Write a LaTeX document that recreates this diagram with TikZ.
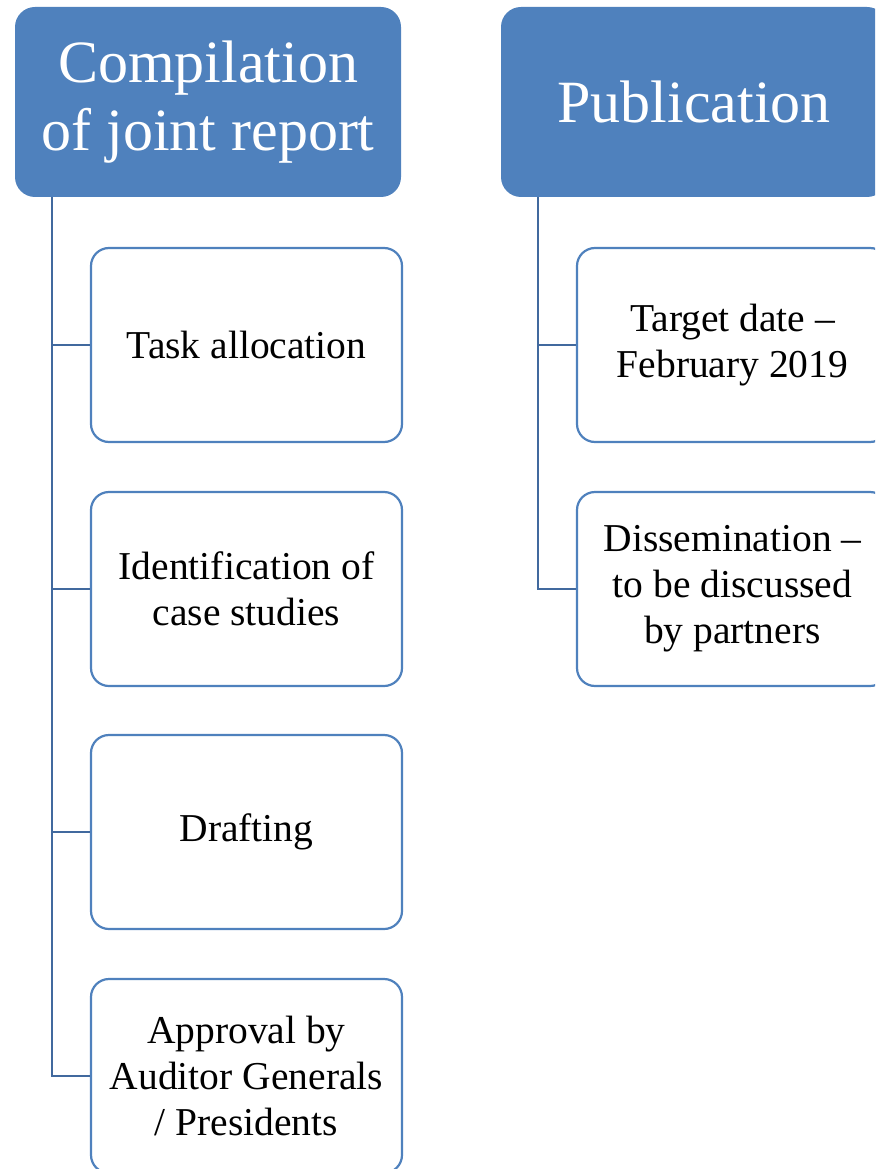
\documentclass[tikz,border=0pt]{standalone}
\usepackage{fontspec}
\setmainfont{Liberation Serif}
\definecolor{hdr}{HTML}{4F81BD}
\definecolor{lnk}{HTML}{41699E}
\begin{document}
\begin{tikzpicture}[x=1pt,y=-1pt,
  hdrbox/.style={draw=none, fill=hdr, rounded corners=20pt, minimum width=386pt, minimum height=190pt, text=white, font=\fontsize{60}{68}\selectfont, align=center, inner sep=0pt},
  itembox/.style={draw=hdr, line width=2.2pt, fill=white, rounded corners=18pt, minimum width=311pt, minimum height=194pt, font=\fontsize{39.5}{46}\selectfont, align=center, inner sep=0pt},
  link/.style={draw=lnk, line width=2.2pt}]
\useasboundingbox (0,0) rectangle (875,1169);
\clip (0,0) rectangle (875,1169);
\node[hdrbox] (h1) at (208,102) {Compilation\\of joint report};
\node[hdrbox] (h2) at (694,102) {Publication};
\node[itembox] (a1) at (246.5,345) {Task allocation};
\node[itembox] (a2) at (246.5,589) {Identification of\\case studies};
\node[itembox] (a3) at (246.5,832) {Drafting};
\node[itembox] (a4) at (246.5,1076) {Approval by\\Auditor Generals\\/ Presidents};
\node[itembox] (p1) at (732.5,345) {Target date –\\February 2019};
\node[itembox] (p2) at (732.5,589) {Dissemination –\\to be discussed\\by partners};
\coordinate (s1) at ([xshift=37pt]h1.south west);
\coordinate (s2) at ([xshift=37pt]h2.south west);
\draw[link] (a1.west) -| (s1);
\draw[link] (a2.west) -| (s1);
\draw[link] (a3.west) -| (s1);
\draw[link] (a4.west) -| (s1);
\draw[link] (p1.west) -| (s2);
\draw[link] (p2.west) -| (s2);
\end{tikzpicture}
\end{document}
